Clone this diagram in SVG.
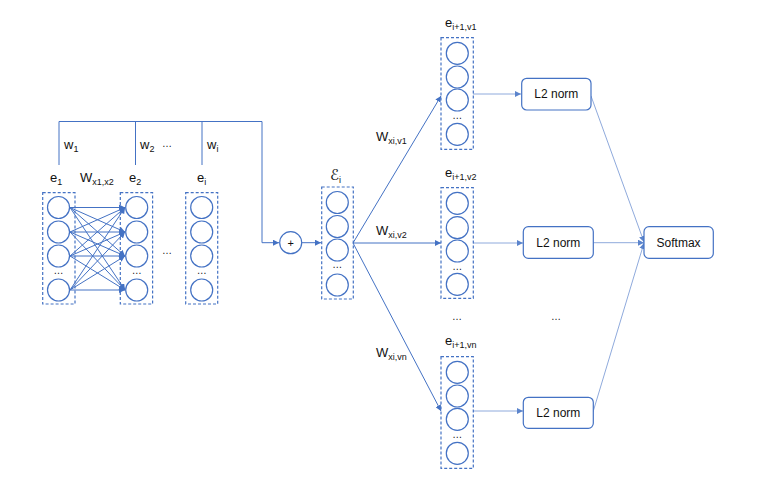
<svg xmlns="http://www.w3.org/2000/svg" width="759" height="477" viewBox="0 0 759 477">
<defs>
<marker id="ah" viewBox="0 0 6 6" refX="6" refY="3" markerWidth="6" markerHeight="6" markerUnits="userSpaceOnUse" orient="auto"><path d="M0,0 L6,3 L0,6 z" fill="#4472C4"/></marker>
<marker id="ahl" viewBox="0 0 6 6" refX="6" refY="3" markerWidth="6" markerHeight="6" markerUnits="userSpaceOnUse" orient="auto"><path d="M0,0 L6,3 L0,6 z" fill="#5B84CC"/></marker>
<style>
.c{fill:#fff;stroke:#4472C4;stroke-width:1.2}
.db{fill:none;stroke:#4472C4;stroke-width:1.2;stroke-dasharray:3,2}
.rb{fill:#fff;stroke:#4472C4;stroke-width:1.2}
.ln{fill:none;stroke:#4472C4;stroke-width:1}
.lt{fill:none;stroke:#8FAADC;stroke-width:1}
.t{font-family:"Liberation Sans",Arial,sans-serif;font-size:13px;fill:#111}
.s{font-size:9px}
.m{font-family:"Liberation Sans",Arial,sans-serif;font-size:12px;fill:#111;text-anchor:middle;dominant-baseline:central}
.d{font-family:"Liberation Sans",Arial,sans-serif;font-size:10px;fill:#111;text-anchor:middle}
</style>
</defs>

<g id="connectors">
<polyline class="ln" points="59,165 59,121.5 262,121.5 262,242.7 279,242.7" marker-end="url(#ah)"/>
<line class="ln" x1="135.5" y1="121.5" x2="135.5" y2="165"/>
<line class="ln" x1="202" y1="121.5" x2="202" y2="165"/>
<line class="ln" x1="302" y1="242.7" x2="321" y2="242.7" marker-end="url(#ah)"/>
<g id="dense">
<line class="ln" x1="70" y1="207.5" x2="125" y2="207.5" marker-end="url(#ah)"/>
<line class="ln" x1="70" y1="207.5" x2="125" y2="232" marker-end="url(#ah)"/>
<line class="ln" x1="70" y1="207.5" x2="125" y2="256" marker-end="url(#ah)"/>
<line class="ln" x1="70" y1="207.5" x2="125" y2="290" marker-end="url(#ah)"/>
<line class="ln" x1="70" y1="232" x2="125" y2="207.5" marker-end="url(#ah)"/>
<line class="ln" x1="70" y1="232" x2="125" y2="232" marker-end="url(#ah)"/>
<line class="ln" x1="70" y1="232" x2="125" y2="256" marker-end="url(#ah)"/>
<line class="ln" x1="70" y1="232" x2="125" y2="290" marker-end="url(#ah)"/>
<line class="ln" x1="70" y1="256" x2="125" y2="207.5" marker-end="url(#ah)"/>
<line class="ln" x1="70" y1="256" x2="125" y2="232" marker-end="url(#ah)"/>
<line class="ln" x1="70" y1="256" x2="125" y2="256" marker-end="url(#ah)"/>
<line class="ln" x1="70" y1="256" x2="125" y2="290" marker-end="url(#ah)"/>
<line class="ln" x1="70" y1="290" x2="125" y2="207.5" marker-end="url(#ah)"/>
<line class="ln" x1="70" y1="290" x2="125" y2="232" marker-end="url(#ah)"/>
<line class="ln" x1="70" y1="290" x2="125" y2="256" marker-end="url(#ah)"/>
<line class="ln" x1="70" y1="290" x2="125" y2="290" marker-end="url(#ah)"/>
</g>
<line class="ln" x1="353" y1="243" x2="441" y2="96" marker-end="url(#ah)"/>
<line class="ln" x1="353" y1="243" x2="441" y2="243" marker-end="url(#ah)"/>
<line class="ln" x1="353" y1="243" x2="441" y2="411" marker-end="url(#ah)"/>
<line class="lt" x1="473" y1="94" x2="521" y2="94" marker-end="url(#ahl)"/>
<line class="lt" x1="473" y1="243" x2="523" y2="243" marker-end="url(#ahl)"/>
<line class="lt" x1="473" y1="411" x2="523" y2="411" marker-end="url(#ahl)"/>
<line class="lt" x1="591" y1="96" x2="644" y2="242" marker-end="url(#ahl)"/>
<line class="lt" x1="593" y1="242.7" x2="644" y2="242.7" marker-end="url(#ahl)"/>
<line class="lt" x1="593" y1="412" x2="644" y2="243" marker-end="url(#ahl)"/>
</g>

<g id="labels">
<text class="t" x="64" y="149">w<tspan class="s" dy="3">1</tspan></text>
<text class="t" x="140" y="149">w<tspan class="s" dy="3">2</tspan></text>
<text class="d" x="167" y="147">…</text>
<text class="t" x="207" y="149">w<tspan class="s" dy="3">i</tspan></text>
<text class="t" x="80" y="182">W<tspan class="s" dy="3">x1,x2</tspan></text>
<text class="d" x="167" y="254">…</text>
<text class="t" x="376" y="141">W<tspan class="s" dy="3">xi,v1</tspan></text>
<text class="t" x="376" y="235">W<tspan class="s" dy="3">xi,v2</tspan></text>
<text class="t" x="376" y="357">W<tspan class="s" dy="3">xi,vn</tspan></text>
<text class="d" x="457" y="320">…</text>
<text class="d" x="556" y="320">…</text>
</g>

<g id="e1">
<text class="t" x="50" y="182">e<tspan class="s" dy="3">1</tspan></text>
<rect class="db" x="42.7" y="192.7" width="32.3" height="111.3"/>
<circle class="c" cx="58.5" cy="207.5" r="11"/>
<circle class="c" cx="58.5" cy="232" r="11"/>
<circle class="c" cx="58.5" cy="256" r="11"/>
<text class="d" x="58.5" y="274">…</text>
<circle class="c" cx="58.5" cy="290" r="11"/>
</g>

<g id="e2">
<text class="t" x="129" y="182">e<tspan class="s" dy="3">2</tspan></text>
<rect class="db" x="120.3" y="192.7" width="32.3" height="111.3"/>
<circle class="c" cx="136.7" cy="207.5" r="11"/>
<circle class="c" cx="136.7" cy="232" r="11"/>
<circle class="c" cx="136.7" cy="256" r="11"/>
<text class="d" x="136.7" y="274">…</text>
<circle class="c" cx="136.7" cy="290" r="11"/>
</g>

<g id="ei">
<text class="t" x="197" y="182">e<tspan class="s" dy="3">i</tspan></text>
<rect class="db" x="185.7" y="192.7" width="32" height="111.3"/>
<circle class="c" cx="201.7" cy="207.5" r="11"/>
<circle class="c" cx="201.7" cy="232" r="11"/>
<circle class="c" cx="201.7" cy="256" r="11"/>
<text class="d" x="201.7" y="274">…</text>
<circle class="c" cx="201.7" cy="290" r="11"/>
</g>

<g id="plus">
<circle class="c" cx="290.7" cy="242.7" r="11"/>
<text class="m" x="290.7" y="242.7" style="font-size:11px">+</text>
</g>

<g id="epsilon_i">
<text x="330" y="180" style="font-family:'DejaVu Sans',sans-serif;font-style:italic;font-size:15px;fill:#111">ℰ<tspan style="font-family:'Liberation Sans',sans-serif;font-style:normal;font-size:9px;fill:#111" dy="3">i</tspan></text>
<rect class="db" x="321.7" y="187" width="31.6" height="112"/>
<circle class="c" cx="337.3" cy="202.5" r="11"/>
<circle class="c" cx="337.3" cy="226.5" r="11"/>
<circle class="c" cx="337.3" cy="250" r="11"/>
<text class="d" x="337.3" y="268">…</text>
<circle class="c" cx="337.3" cy="285" r="11"/>
</g>

<g id="e_v1">
<text class="t" x="445" y="27">e<tspan class="s" dy="3">i+1,v1</tspan></text>
<rect class="db" x="441" y="37.7" width="32.3" height="111.6"/>
<circle class="c" cx="457.3" cy="53.3" r="11"/>
<circle class="c" cx="457.3" cy="77" r="11"/>
<circle class="c" cx="457.3" cy="100" r="11"/>
<text class="d" x="457.3" y="119">…</text>
<circle class="c" cx="457.3" cy="134.3" r="11"/>
</g>

<g id="e_v2">
<text class="t" x="445" y="177">e<tspan class="s" dy="3">i+1,v2</tspan></text>
<rect class="db" x="441" y="187.7" width="32.3" height="110.6"/>
<circle class="c" cx="457.3" cy="203.3" r="11"/>
<circle class="c" cx="457.3" cy="227.7" r="11"/>
<circle class="c" cx="457.3" cy="251" r="11"/>
<text class="d" x="457.3" y="270">…</text>
<circle class="c" cx="457.3" cy="284.3" r="11"/>
</g>

<g id="e_vn">
<text class="t" x="445" y="345">e<tspan class="s" dy="3">i+1,vn</tspan></text>
<rect class="db" x="441" y="356.7" width="32.3" height="111.6"/>
<circle class="c" cx="457.3" cy="372.3" r="11"/>
<circle class="c" cx="457.3" cy="396" r="11"/>
<circle class="c" cx="457.3" cy="419.3" r="11"/>
<text class="d" x="457.3" y="438">…</text>
<circle class="c" cx="457.3" cy="453.3" r="11"/>
</g>

<g id="l2norm1">
<rect class="rb" x="521.7" y="78.3" width="69.3" height="31.7" rx="5"/>
<text class="m" x="556.3" y="94.3">L2 norm</text>
</g>
<g id="l2norm2">
<rect class="rb" x="523.3" y="226.7" width="70" height="31.6" rx="5"/>
<text class="m" x="558.3" y="242.5">L2 norm</text>
</g>
<g id="l2norm3">
<rect class="rb" x="523.3" y="397.3" width="70" height="31" rx="5"/>
<text class="m" x="558.3" y="412.8">L2 norm</text>
</g>
<g id="softmax">
<rect class="rb" x="644" y="226.7" width="69.3" height="31.6" rx="5"/>
<text class="m" x="678.6" y="242.5">Softmax</text>
</g>
</svg>
